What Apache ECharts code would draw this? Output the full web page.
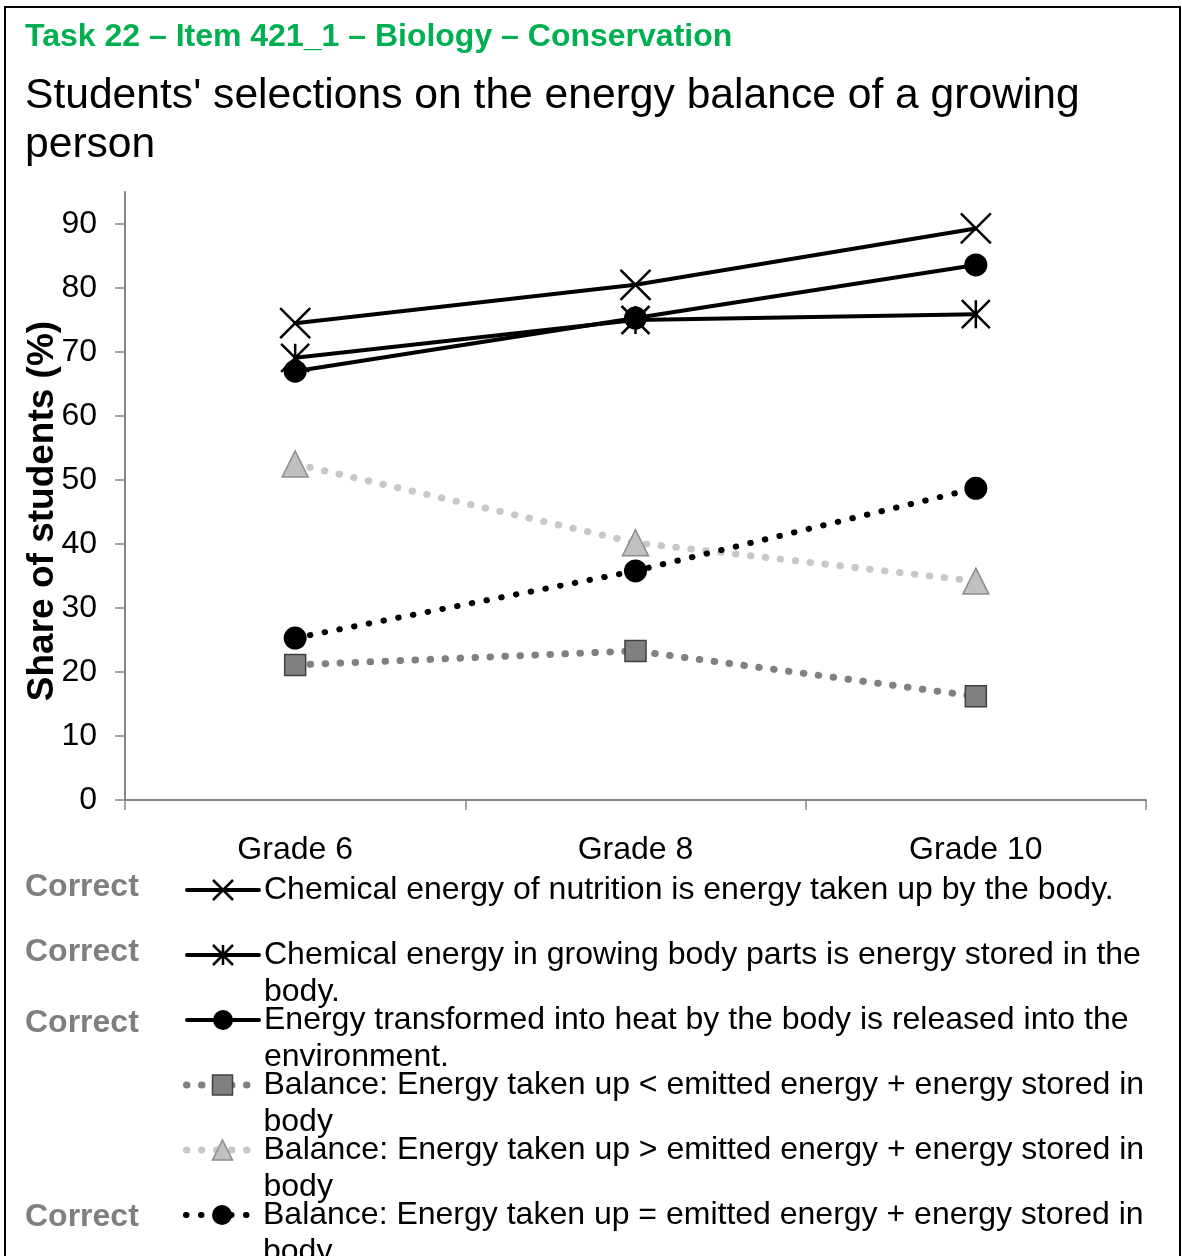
<!DOCTYPE html>
<html><head><meta charset="utf-8">
<script src="https://cdn.jsdelivr.net/npm/echarts@6/dist/echarts.min.js"></script>
<style>html,body{margin:0;padding:0;background:#fff}#c{width:1182px;height:1256px}</style>
</head><body><div id="c"></div>
<script>
// ---- data ----
const categories = ['Grade 6', 'Grade 8', 'Grade 10'];
const seriesNames = [
  'Chemical energy of nutrition is energy taken up by the body.',
  'Chemical energy in growing body parts is energy stored in the body.',
  'Energy transformed into heat by the body is released into the environment.',
  'Balance: Energy taken up < emitted energy + energy stored in body',
  'Balance: Energy taken up > emitted energy + energy stored in body',
  'Balance: Energy taken up = emitted energy + energy stored in body'
];
const nutritionTakenUp = [74.5, 80.5, 89.3];
const growingStored = [69.1, 75.0, 75.9];
const heatReleased = [67.0, 75.3, 83.6];
const balanceLess = [21.1, 23.3, 16.2];
const balanceGreater = [52.5, 40.2, 34.2];
const balanceEqual = [25.3, 35.8, 48.7];
const yTickValues = [0, 10, 20, 30, 40, 50, 60, 70, 80, 90];
const correctFlags = [true, true, true, false, false, true];
const correctLabel = 'Correct';
const headerText = 'Task 22 \u2013 Item 421_1 \u2013 Biology \u2013 Conservation';
const titleText = "Students' selections on the energy balance of a growing person";
const yAxisName = 'Share of students (%)';

// ---- styling ----
const FONT = '"Liberation Sans", Arial, Helvetica, sans-serif';
const CROSS = 'path://M0,0L20,20M20,0L0,20';
const ASTER = 'path://M0,0L20,20M20,0L0,20M10,0L10,20';
const DOTS = [0.5, 14.5];
const styles = [
  {data: nutritionTakenUp, symbol: CROSS, size: 30, fill: '#000', border: '#000', bw: 2.5, line: '#000', lw: 4, dash: 'solid'},
  {data: growingStored, symbol: ASTER, size: 28, fill: '#000', border: '#000', bw: 2.5, line: '#000', lw: 4, dash: 'solid'},
  {data: heatReleased, symbol: 'circle', size: 23, fill: '#000', border: '#000', bw: 0, line: '#000', lw: 4, dash: 'solid'},
  {data: balanceLess, symbol: 'rect', size: 21, fill: '#808080', border: '#404040', bw: 1.5, line: '#808080', lw: 7, dash: DOTS},
  {data: balanceGreater, symbol: 'triangle', size: 26, fill: '#C0C0C0', border: '#8C8C8C', bw: 1.5, line: '#C8C8C8', lw: 7, dash: DOTS},
  {data: balanceEqual, symbol: 'circle', size: 23, fill: '#000', border: '#000', bw: 0, line: '#000', lw: 6, dash: DOTS}
];
const rowY = [890, 955, 1020, 1085, 1150, 1215];
const correctY = [885, 950, 1021, 0, 0, 1215];
const twoLine = [false, true, true, true, true, true];
const legendLeft = [185, 185, 185, 183, 183, 183];

const series = styles.map((s, i) => ({
  name: seriesNames[i],
  type: 'line',
  data: s.data,
  symbol: s.symbol,
  symbolSize: s.size,
  showAllSymbol: true,
  itemStyle: {color: s.fill, borderColor: s.border, borderWidth: s.bw, opacity: 1},
  lineStyle: {color: s.line, width: s.lw, type: s.dash, cap: 'round'},
  emphasis: {disabled: true},
  z: 2 + i
}));

const legends = styles.map((s, i) => ({
  data: [seriesNames[i]],
  left: legendLeft[i],
  top: rowY[i] - (twoLine[i] ? 55.5 : 18.5),
  padding: 0,
  itemWidth: 72,
  itemHeight: 25,
  itemGap: 0,
  selectedMode: false,
  orient: 'vertical',
  formatter: twoLine[i] ? (name) => '\n' + name : (name) => name,
  textStyle: {
    fontFamily: FONT, fontSize: 32, color: '#000', lineHeight: 37,
    width: 1150, overflow: 'break'
  },
  lineStyle: {width: s.lw},
  itemStyle: {borderWidth: s.bw}
}));

const graphics = [
  {type: 'rect', shape: {x: 5, y: 7, width: 1175, height: 1300}, style: {fill: 'none', stroke: '#000', lineWidth: 2}, silent: true}
];
correctFlags.forEach((c, i) => {
  if (c) graphics.push({
    type: 'text', left: 25, top: correctY[i] - 14,
    style: {text: correctLabel, fontFamily: FONT, fontSize: 32, fontWeight: 'bold', fill: '#7F7F7F'}
  });
});

const chart = echarts.init(document.getElementById('c'), null, {renderer: 'canvas'});
chart.setOption({
  animation: false,
  backgroundColor: '#fff',
  title: {
    left: 25, top: 17, padding: 0, itemGap: 14.5,
    text: headerText,
    textStyle: {fontFamily: FONT, fontSize: 32, fontWeight: 'bold', color: '#00B050', lineHeight: 40},
    subtext: titleText,
    subtextStyle: {fontFamily: FONT, fontSize: 42.6, color: '#000', lineHeight: 49, width: 1100, overflow: 'break'}
  },
  grid: {left: 125, right: 36, top: 192, bottom: 456, containLabel: false},
  xAxis: {
    type: 'category', data: categories, boundaryGap: true,
    axisLine: {lineStyle: {color: '#868686', width: 2}},
    axisTick: {show: true, length: 10, alignWithLabel: false, lineStyle: {color: '#868686', width: 1.5}},
    axisLabel: {fontFamily: FONT, fontSize: 32, color: '#000', margin: 34},
    splitLine: {show: false}
  },
  yAxis: {
    type: 'value', min: 0, max: 95, interval: 10,
    name: yAxisName, nameLocation: 'middle', nameGap: 64, nameMoveOverlap: false,
    nameTextStyle: {fontFamily: FONT, fontSize: 37, fontWeight: 'bold', color: '#000', padding: [0, 30, 0, 0]},
    axisLine: {show: true, lineStyle: {color: '#868686', width: 2}},
    axisTick: {show: true, length: 10, customValues: yTickValues, lineStyle: {color: '#868686', width: 1.5}},
    axisLabel: {fontFamily: FONT, fontSize: 32, color: '#000', margin: 28, customValues: yTickValues},
    splitLine: {show: false}
  },
  legend: legends,
  series: series,
  graphic: graphics
});
</script></body></html>
